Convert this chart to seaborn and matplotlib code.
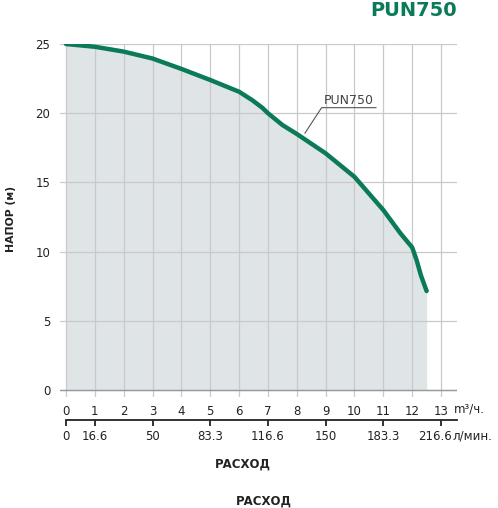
import matplotlib
matplotlib.use("Agg")
import matplotlib.pyplot as plt
import seaborn as sns
import numpy as np
import pandas as pd

# ---- data ----
flow_m3h = [0, 1, 2, 3, 4, 5, 6, 6.45, 6.8, 7, 7.5, 8, 9, 10, 11, 11.6, 12, 12.15, 12.3, 12.5]
head_m = [25, 24.8, 24.45, 23.95, 23.2, 22.4, 21.55, 20.95, 20.4, 20.0, 19.15, 18.5, 17.1,
          15.4, 13.0, 11.3, 10.3, 9.4, 8.3, 7.15]
x_ticks = list(range(0, 14))
y_ticks = [0, 5, 10, 15, 20, 25]
lmin_ticks = [0, 16.6, 50, 83.3, 116.6, 150, 183.3, 216.6]
lmin_labels = ["0", "16.6", "50", "83.3", "116.6", "150", "183.3", ""]
last_lmin_label = "216.6"
series_name = "PUN750"

GREEN = "#0b7a58"
FILL = "#dfe4e6"
GRID = "#c9c9c9"
TXT = "#222222"

sns.set_style("white")
plt.rcParams['font.family'] = ['DejaVu Sans']

df = pd.DataFrame({"flow": flow_m3h, "head": head_m})

fig = plt.figure(figsize=(4.98, 5.08), dpi=100)
ax = fig.add_axes([60/498, 1-397/508, 397/498, 353/508])

ax.fill_between(df["flow"], 0, df["head"], color=FILL, zorder=1, linewidth=0)
sns.lineplot(data=df, x="flow", y="head", ax=ax, color=GREEN, linewidth=3.2,
             zorder=4, solid_capstyle='round', solid_joinstyle='round')

ax.set_xlim(-0.208, 13.553)
ax.set_ylim(-0.506, 25)
ax.set_xticks(x_ticks)
ax.set_yticks(y_ticks)
ax.grid(True, color=GRID, linewidth=0.9, zorder=2)
ax.set_axisbelow(False)
for s in ax.spines.values():
    s.set_visible(False)
ax.axhline(0, color="#9a9a9a", linewidth=1.0, zorder=3)
ax.tick_params(axis='both', length=0, labelsize=8.5, colors=TXT)
ax.tick_params(axis='x', pad=6)
ax.tick_params(axis='y', pad=7)
ax.set_xlabel("")
ax.set_ylabel("")

# secondary axis (l/min)
sec = ax.secondary_xaxis(-0.065, functions=(lambda v: v * 16.6667, lambda v: v / 16.6667))
sec.set_xticks(lmin_ticks)
sec.set_xticklabels(lmin_labels)
sec.spines['bottom'].set_color(TXT)
sec.spines['bottom'].set_linewidth(1.3)
sec.spines['bottom'].set_bounds(0, 13.553 * 16.6667)
sec.tick_params(axis='x', direction='out', length=4, width=1.3, color=TXT,
                labelsize=8.5, labelcolor=TXT, pad=3)

# last l/min label and unit labels
fig.text(452/498, 1-436/508, last_lmin_label, fontsize=8.5, color=TXT, ha='right', va='center')
fig.text(454/498, 1-409/508, "m³/ч.", fontsize=8.5, color=TXT, ha='left', va='center')
fig.text(452/498, 1-436/508, "л/мин.", fontsize=8.5, color=TXT, ha='left', va='center')

# axis titles
fig.text(243/498, 1-464/508, "РАСХОД", fontsize=8.5, fontweight='bold', color=TXT,
         ha='center', va='center')
fig.text(264/498, 1-501/508, "РАСХОД", fontsize=8.5, fontweight='bold', color=TXT,
         ha='center', va='center')
fig.text(11/498, 1-219/508, "НАПОР (м)", fontsize=7.8, fontweight='bold', color=TXT,
         ha='center', va='center', rotation=90)

# title
fig.text(457/498, 1-10/508, series_name, fontsize=14, fontweight='bold', color=GREEN,
         ha='right', va='center')

# annotation
ax.plot([10.75, 8.86, 8.28], [20.4, 20.4, 18.55], color="#555555", linewidth=0.8, zorder=5)
ax.text(9.8, 20.7, series_name, fontsize=9, color="#444444", ha='center', va='baseline', zorder=5)

fig.savefig("out.png", dpi=100)
